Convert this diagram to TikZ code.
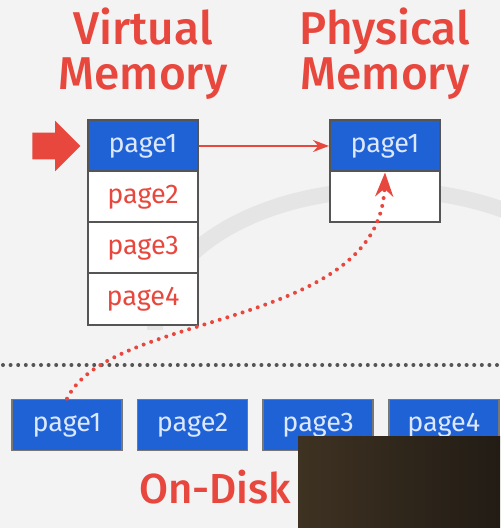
\documentclass[tikz,border=0pt]{standalone}
\usepackage{fontspec}
\setmainfont{Fira Sans}
\newfontfamily\headfont{Fira Sans}[UprightFont=* Medium]
\usetikzlibrary{
        arrows.meta,
        positioning,
        shapes.arrows
    }
\definecolor{slidebg}{HTML}{F3F3F3}
\definecolor{swirlgray}{HTML}{E5E5E5}
\definecolor{pageblue}{HTML}{1E62D6}
\definecolor{pagetext}{HTML}{DCE8FF}
\definecolor{slidered}{HTML}{E8473D}
\definecolor{cellgray}{HTML}{555555}
\definecolor{camdark}{HTML}{221C15}
\definecolor{camlight}{HTML}{3E3222}
\tikzset{>=Stealth,node distance=0pt}
\tikzset{cell/.style={draw=cellgray,line width=1pt,fill=white,minimum width=55pt,minimum height=25.5pt,inner sep=0pt,text=slidered,font=\fontsize{13.5}{14}\selectfont}}
\tikzset{hot/.style={cell,fill=pageblue,text=pagetext}}
\tikzset{disk/.style={hot,draw=cellgray!80,line width=0.8pt}}
\tikzset{heading/.style={text=slidered,align=center,font=\fontsize{23}{22.5}\selectfont\headfont}}

\begin{document}
\begin{tikzpicture}[x=0.5pt,y=-0.5pt]
        \fill[slidebg] (0,0) rectangle (500,528);
        \useasboundingbox (0,0) rectangle (500,528);
        \draw[swirlgray,line width=8pt] (155,330) arc[start angle=180,end angle=330,x radius=230,y radius=140];

        \node[heading] (vhead) at (143,54) {Virtual\\Memory};
        \node[heading] (phead) at (385,54) {Physical\\Memory};

        % virtual memory
        \node[hot]  (v1) at (143,146)  {page1};
        \node[cell] (v2) [below=-1pt of v1] {page2};
        \node[cell] (v3) [below=-1pt of v2] {page3};
        \node[cell] (v4) [below=-1pt of v3] {page4};
        \node[single arrow,fill=slidered,minimum height=24pt,minimum width=25pt,single arrow head extend=6pt,inner xsep=0pt,inner ysep=6.5pt,left=3pt of v1] (ptr) {};

        % physical memory
        \node[hot]  (p1) at (385,146)  {page1};
        \node[cell] (p2) [below=-1pt of p1] {};

        % disk
        \draw[cellgray,line width=2pt,line cap=round,dash pattern=on 0pt off 3.8pt] (3,365) -- (500,365);
        \node[disk] (d1) at (67,425) {page1};
        \node[disk] (d2) [right=7pt of d1] {page2};
        \node[disk] (d3) [right=7pt of d2] {page3};
        \node[disk] (d4) [right=7pt of d3] {page4};
        \node[text=slidered,font=\fontsize{21}{21}\selectfont\headfont,anchor=base west] (disk) at (132,503) {On-Disk};

        \draw[->,slidered,line width=1.1pt] (v1) -- (p1);
        \draw[->,slidered,line width=2pt,line cap=round,dash pattern=on 0pt off 4pt] (d1.north) .. controls (110,310) and (380,330) .. (p1.south);

        \shade[left color=camlight,right color=camdark] (298,436) rectangle (500,528);
\end{tikzpicture}
\end{document}
